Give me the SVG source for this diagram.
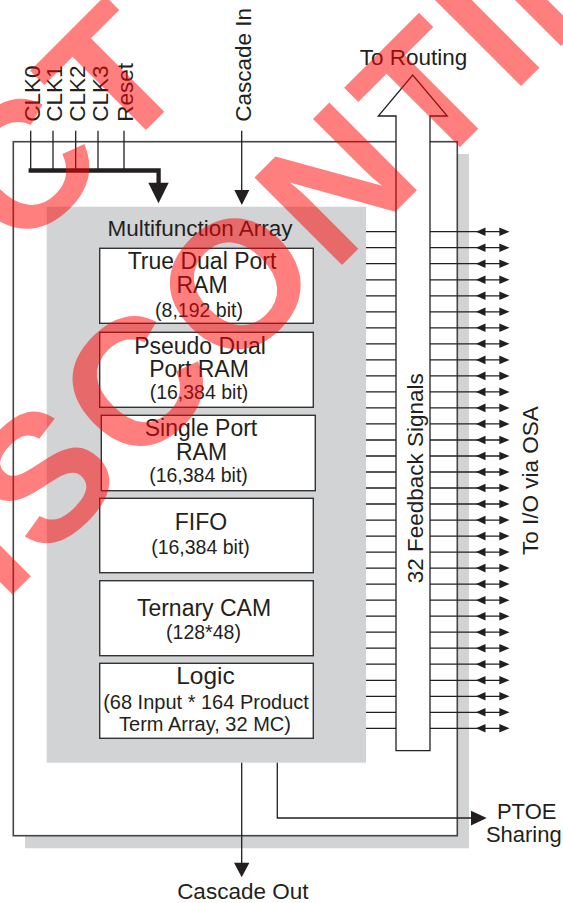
<svg xmlns="http://www.w3.org/2000/svg" width="563" height="903" viewBox="0 0 563 903">
<style>
.t{font-family:"Liberation Sans",Arial,Helvetica,sans-serif;fill:#231f20}
.h{font-size:23px;text-anchor:middle}
.s{font-size:19.5px;text-anchor:middle}
.l{font-size:22.5px}
.m{text-anchor:middle}
.box{fill:#fff;stroke:#333;stroke-width:1.4}
.ln{stroke:#231f20;stroke-width:1.3;fill:none}
.ah{fill:#231f20}
.wm{font-family:"Liberation Sans",Arial,sans-serif;font-weight:bold;font-size:180px;letter-spacing:6.5px;fill:#ff0000;fill-opacity:0.5}
</style>
<defs>
<g id="io">
<path class="ln" d="M430 0H500"/>
<polygon class="ah" points="476,0 485.5,-4.3 485.5,4.3"/>
<polygon class="ah" points="509.5,0 499.3,-4.3 499.3,4.3"/>
</g>
</defs>
<rect width="563" height="903" fill="#fff"/>

<g id="block">
<rect x="25" y="154" width="444" height="694.3" fill="#d1d3d4"/>
<rect x="13.3" y="141.7" width="444" height="694" fill="#fff" stroke="#444" stroke-width="1.6"/>
</g>

<g id="multifunction-array">
<rect x="46.7" y="206.7" width="319.3" height="556" fill="#d1d3d4"/>
<text class="t l m" x="200" y="236">Multifunction Array</text>
</g>

<g id="true-dual-port-ram">
<rect class="box" x="99.7" y="248.3" width="213.6" height="75"/>
<text class="t h" x="202" y="269.3">True Dual Port</text>
<text class="t h" x="202" y="292.7">RAM</text>
<text class="t s" x="199" y="316.5">(8,192 bit)</text>
</g>
<g id="pseudo-dual-port-ram">
<rect class="box" x="99.7" y="332.3" width="213.6" height="75"/>
<text class="t h" x="200" y="354">Pseudo Dual</text>
<text class="t h" x="199" y="376.7">Port RAM</text>
<text class="t s" x="199" y="399.3">(16,384 bit)</text>
</g>
<g id="single-port-ram">
<rect class="box" x="101.3" y="415.3" width="214" height="75.4"/>
<text class="t h" x="201" y="436">Single Port</text>
<text class="t h" x="201.5" y="460">RAM</text>
<text class="t s" x="198.5" y="482">(16,384 bit)</text>
</g>
<g id="fifo">
<rect class="box" x="99.7" y="498.3" width="213.6" height="74.4"/>
<text class="t h" x="201" y="530">FIFO</text>
<text class="t s" x="200.5" y="554">(16,384 bit)</text>
</g>
<g id="ternary-cam">
<rect class="box" x="99.7" y="580.7" width="213.6" height="75"/>
<text class="t h" x="204" y="616">Ternary CAM</text>
<text class="t s" x="203.5" y="639.3">(128*48)</text>
</g>
<g id="logic">
<rect class="box" x="99.7" y="663.3" width="213.6" height="75"/>
<text class="t h" x="205.5" y="684" style="font-size:24.5px">Logic</text>
<text class="t" x="206" y="709.3" style="font-size:20px;text-anchor:middle">(68 Input * 164 Product</text>
<text class="t" x="205" y="730.7" style="font-size:20px;text-anchor:middle">Term Array, 32 MC)</text>
</g>

<g id="feedback-bus">
<polygon points="396,750.7 396,116 378.3,116 412.7,75 447.3,116 430,116 430,750.7" fill="#fff" stroke="#231f20" stroke-width="1.3" stroke-linejoin="miter"/>
<text class="t l m" transform="translate(422.5,478.3) rotate(-90)">32 Feedback Signals</text>
</g>

<g id="connectors">
<path class="ln" d="M30.7 130.7V170.5M53 130.7V170.5M75.7 130.7V170.5M98 130.7V170.5M124 130.7V170.5"/>
<path d="M28.6 170.5H158.6V184" fill="none" stroke="#231f20" stroke-width="4.3" stroke-linejoin="miter"/>
<polygon class="ah" points="148.3,182.7 168.7,182.7 158.5,203.3"/>
<path class="ln" d="M241.7 130.7V191"/>
<polygon class="ah" points="234.3,190 249.3,190 241.8,205"/>
<path class="ln" d="M241.7 762.7V864"/>
<polygon class="ah" points="234,862.7 249.4,862.7 241.7,877.3"/>
<path class="ln" d="M277.3 762.7V818H472"/>
<polygon class="ah" points="471,810.8 471,825.4 486.7,818"/>
<path class="ln" d="M366 231.7H396M366 247.7H396M366 263.7H396M366 279.8H396M366 295.8H396M366 311.8H396M366 327.8H396M366 343.8H396M366 359.9H396M366 375.9H396M366 391.9H396M366 407.9H396M366 423.9H396M366 440H396M366 456H396M366 472H396M366 488H396M366 504H396M366 520.1H396M366 536.1H396M366 552.1H396M366 568.1H396M366 584.1H396M366 600.2H396M366 616.2H396M366 632.2H396M366 648.2H396M366 664.2H396M366 680.3H396M366 696.3H396M366 712.3H396M366 728.3H396"/>
<use href="#io" y="231.7"/><use href="#io" y="247.7"/><use href="#io" y="263.7"/><use href="#io" y="279.8"/>
<use href="#io" y="295.8"/><use href="#io" y="311.8"/><use href="#io" y="327.8"/><use href="#io" y="343.8"/>
<use href="#io" y="359.9"/><use href="#io" y="375.9"/><use href="#io" y="391.9"/><use href="#io" y="407.9"/>
<use href="#io" y="423.9"/><use href="#io" y="440"/><use href="#io" y="456"/><use href="#io" y="472"/>
<use href="#io" y="488"/><use href="#io" y="504"/><use href="#io" y="520.1"/><use href="#io" y="536.1"/>
<use href="#io" y="552.1"/><use href="#io" y="568.1"/><use href="#io" y="584.1"/><use href="#io" y="600.2"/>
<use href="#io" y="616.2"/><use href="#io" y="632.2"/><use href="#io" y="648.2"/><use href="#io" y="664.2"/>
<use href="#io" y="680.3"/><use href="#io" y="696.3"/><use href="#io" y="712.3"/><use href="#io" y="728.3"/>
</g>

<g id="labels">
<text class="t l" transform="translate(40,121.7) rotate(-90)">CLK0</text>
<text class="t l" transform="translate(62.3,121.7) rotate(-90)">CLK1</text>
<text class="t l" transform="translate(85,121.7) rotate(-90)">CLK2</text>
<text class="t l" transform="translate(107.7,121.7) rotate(-90)">CLK3</text>
<text class="t l" transform="translate(133.3,121.7) rotate(-90)">Reset</text>
<text class="t l" transform="translate(250.5,121.7) rotate(-90)">Cascade In</text>
<text class="t l m" x="413.5" y="65">To Routing</text>
<text class="t l" transform="translate(537.5,555) rotate(-90)">To I/O via OSA</text>
<text class="t l m" x="242.8" y="899">Cascade Out</text>
<text class="t m" x="526.7" y="819.3" style="font-size:22px">PTOE</text>
<text class="t m" x="523.8" y="841.7" style="font-size:22px">Sharing</text>
</g>

<g id="watermark">
<text class="wm" text-anchor="end" transform="translate(198.5,77.5) rotate(-45)">PRODUCT</text>
<text class="wm" text-anchor="middle" transform="translate(419.5,187.5) rotate(-45)">DISCONTINUED</text>
</g>
</svg>
